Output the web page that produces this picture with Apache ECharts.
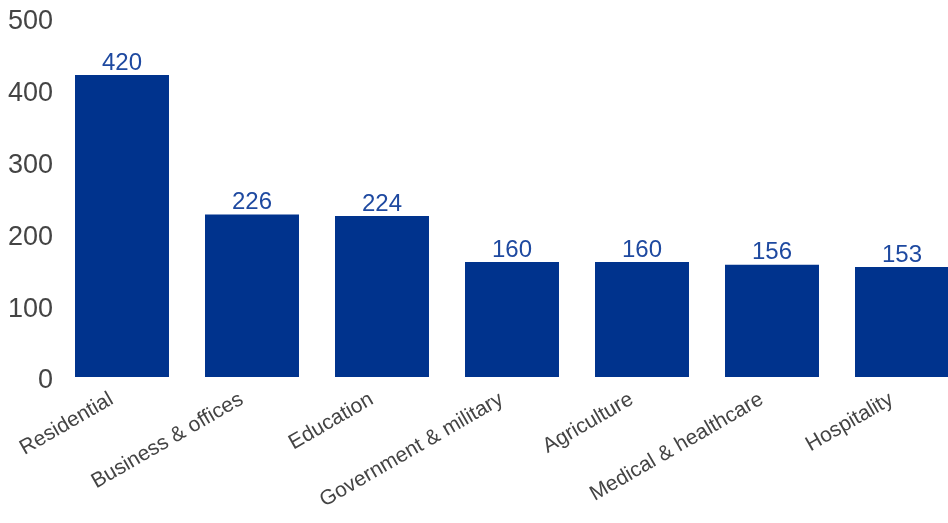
<!DOCTYPE html>
<html><head><meta charset="utf-8">
<script src="https://cdn.jsdelivr.net/npm/echarts@6/dist/echarts.min.js"></script>
<style>html,body{margin:0;padding:0;background:#fff}#c{width:948px;height:523px}</style>
</head><body><div id="c"></div>
<script>
const categories = ["Residential","Business & offices","Education","Government & military","Agriculture","Medical & healthcare","Hospitality"];
const values = [420,226,224,160,160,156,153];
const yTicks = [0,100,200,300,400,500];

const chart = echarts.init(document.getElementById('c'), null, {renderer:'canvas'});
chart.setOption({
  animation:false,
  grid:{left:57,width:910,top:17.5,height:359.5,containLabel:false,outerBoundsMode:'none'},
  xAxis:{type:'category',data:categories,
    axisLine:{show:false},axisTick:{show:false},
    axisLabel:{rotate:30,interval:0,margin:15,padding:[0,12,0,0],color:'#444',fontSize:21,fontFamily:'Liberation Sans, Arial, sans-serif'}},
  yAxis:{type:'value',min:yTicks[0],max:yTicks[yTicks.length-1],interval:100,
    splitLine:{show:false},axisLine:{show:false},axisTick:{show:false},
    axisLabel:{margin:4,formatter:'{v|{value}}',verticalAlign:'middle',
      rich:{v:{color:'#444',fontSize:27,fontFamily:'Liberation Sans, Arial, sans-serif',padding:[8,0,0,0]}}}},
  series:[{type:'bar',data:values,barWidth:'72.3%',
    itemStyle:{color:'#00338d'},
    label:{show:true,position:'top',distance:0,color:'#1e49a0',fontSize:24,fontFamily:'Liberation Sans, Arial, sans-serif'}}]
});
</script></body></html>
